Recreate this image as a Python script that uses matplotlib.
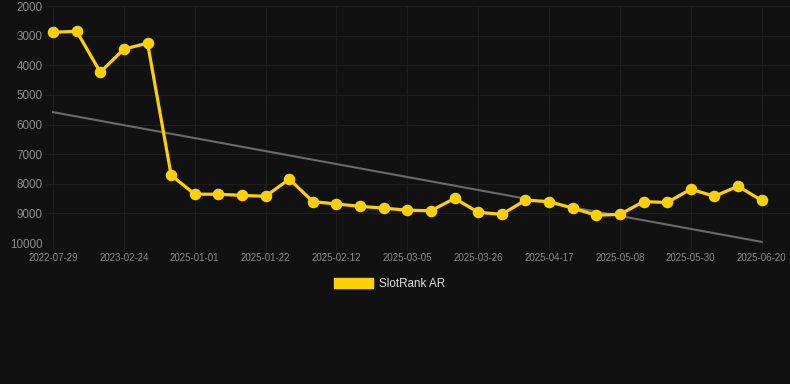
import matplotlib
matplotlib.use("Agg")
import matplotlib.pyplot as plt
from matplotlib.patches import Patch

plt.rcParams['font.family'] = ['Liberation Sans', 'DejaVu Sans']

# rank values, one per snapshot (lower is better, axis inverted)
ranks = [2880, 2850, 4230, 3450, 3250, 7710, 8350, 8350, 8390, 8420,
         7840, 8600, 8680, 8760, 8820, 8890, 8910, 8490, 8960, 9030,
         8550, 8600, 8820, 9060, 9030, 8600, 8630, 8180, 8420, 8080, 8560]

# labels shown on every third point
tick_labels = ["2022-07-29", "2023-02-24", "2025-01-01", "2025-01-22",
               "2025-02-12", "2025-03-05", "2025-03-26", "2025-04-17",
               "2025-05-08", "2025-05-30", "2025-06-20"]

# trend line end values
trend_ends = [5580, 9960]

BG = "#111111"
GOLD = "#FFD000"

fig = plt.figure(figsize=(7.9, 3.84), dpi=100, facecolor=BG)
ax = fig.add_axes([0.057, 0.367, 0.943, 0.617], facecolor=BG)

x = list(range(len(ranks)))
ax.plot([x[0], x[-1]], trend_ends, color="#6a6a6a", lw=1.5, zorder=2)
ax.plot(x, ranks, color=GOLD, lw=2.3, marker="o", markersize=7.3,
        zorder=3, solid_joinstyle="round")

ax.set_ylim(10000, 2000)
ax.set_yticks(range(2000, 10001, 1000))
ax.set_xlim(-0.34, 31.2)
ax.set_xticks(x[::3])
ax.set_xticklabels(tick_labels)

ax.grid(True, color="#1d1d1d", lw=0.9, zorder=0)
for s in ax.spines.values():
    s.set_visible(False)
ax.tick_params(axis="y", length=0, pad=2, labelsize=8.4, labelcolor="#8c8c8c")
ax.tick_params(axis="x", length=5, color="#1d1d1d", pad=2, labelsize=7,
               labelcolor="#8a8a8a")

fig.legend(handles=[Patch(color=GOLD, label="SlotRank AR")],
           loc="center", bbox_to_anchor=(0.493, 0.26), frameon=False,
           handlelength=3.4, handleheight=1.0, handletextpad=0.5,
           fontsize=8.4, labelcolor="#dddddd")

fig.savefig("out.png", dpi=100, facecolor=BG)
